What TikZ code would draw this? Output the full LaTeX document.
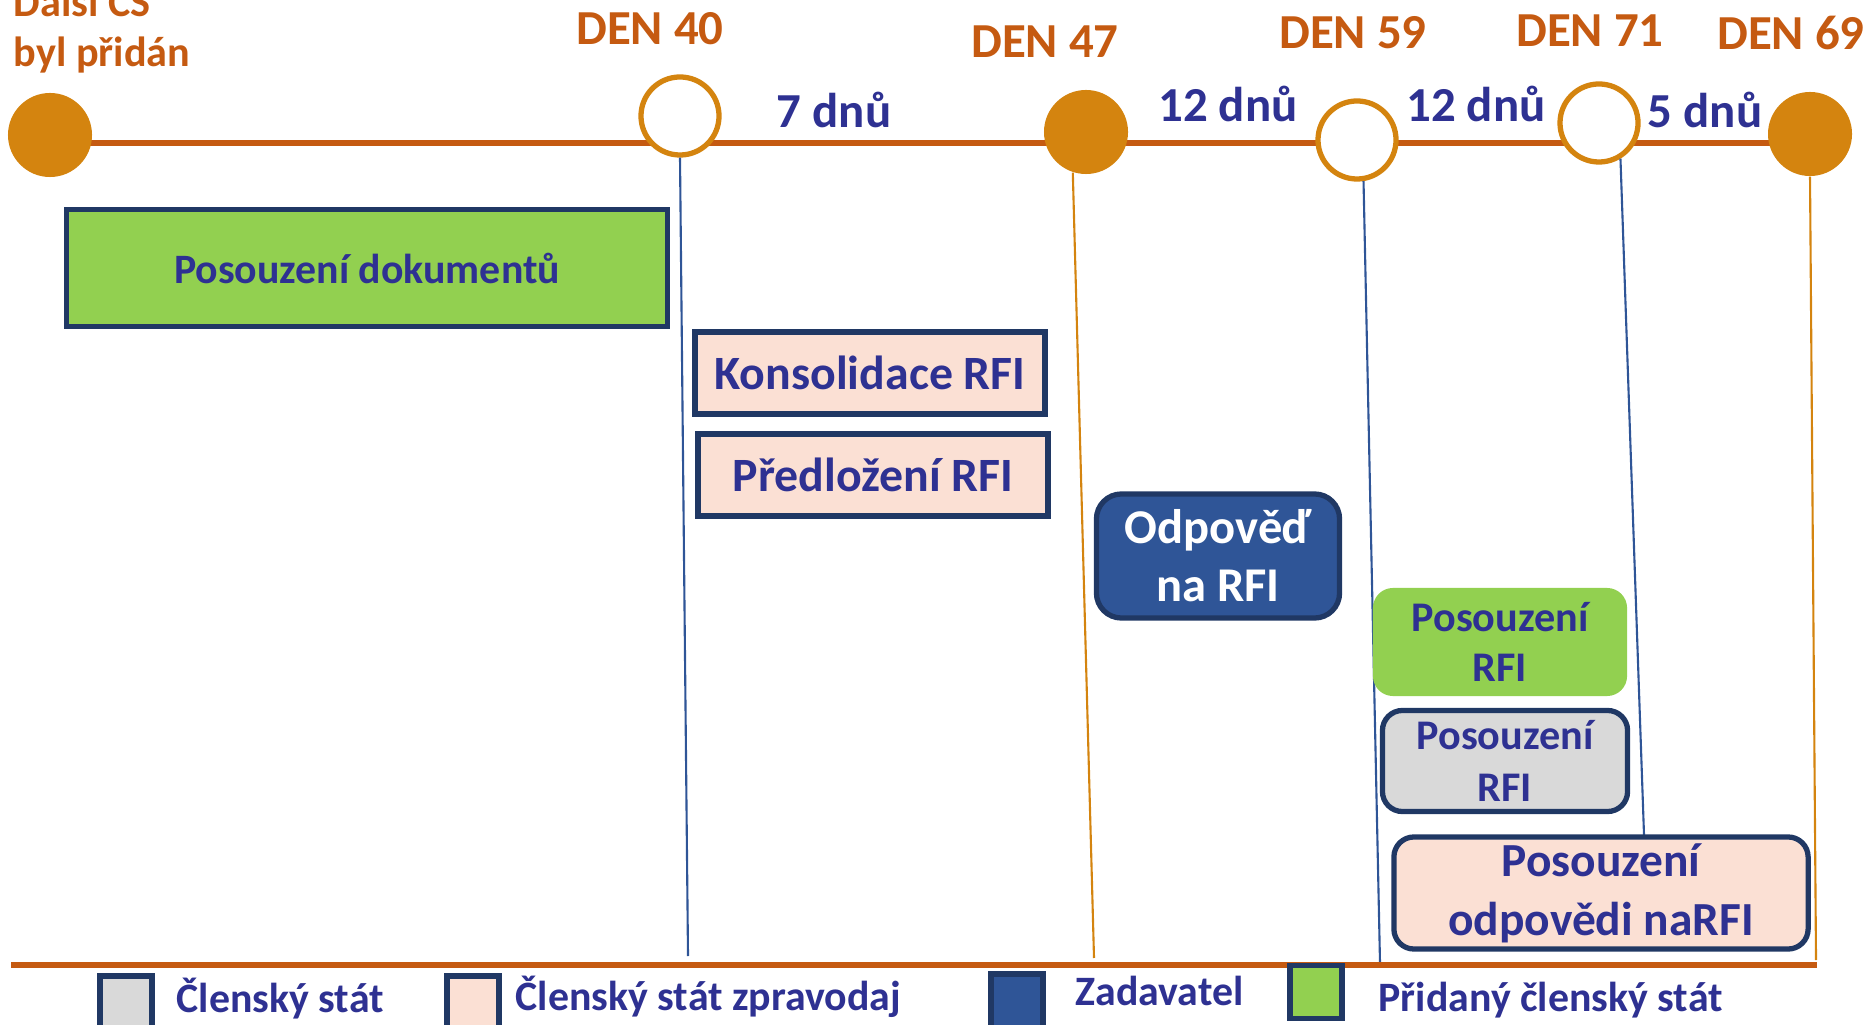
\documentclass[tikz,border=0pt]{standalone}
\usepackage{fontspec}
\setmainfont{Carlito}
\usetikzlibrary{positioning, calc}
\definecolor{rust}{HTML}{C55A11}
\definecolor{amber}{HTML}{D4840F}
\definecolor{inkblue}{HTML}{2E3192}
\definecolor{navy}{HTML}{203864}
\definecolor{midblue}{HTML}{2F5597}
\definecolor{leaf}{HTML}{92D050}
\definecolor{peach}{HTML}{FBE0D4}
\definecolor{stone}{HTML}{D9D9D9}

\begin{document}
\begin{tikzpicture}[
  x=0.01cm, y=-0.01cm,
  daydot/.style={circle, fill=amber, minimum size=0.84cm, inner sep=0pt},
  dayring/.style={circle, draw=amber, fill=white, line width=1.5pt, minimum size=0.78cm, inner sep=0pt},
  daytag/.style={font=\fontsize{13.9}{16}\selectfont\bfseries, text=rust, anchor=base, inner sep=0pt},
  gaptag/.style={font=\fontsize{13.9}{16}\selectfont\bfseries, text=inkblue, anchor=base, inner sep=0pt},
  taskbox/.style={draw=navy, line width=1.5pt, inner sep=0pt, align=center, text=inkblue},
  link/.style={line width=0.6pt},
  keybox/.style={draw=navy, line width=1.6pt, inner sep=0pt, minimum width=0.52cm, minimum height=0.6cm},
  keytag/.style={font=\fontsize{11.9}{14}\selectfont\bfseries, text=inkblue, anchor=base west, inner sep=0pt},
]

% Picture area in pixels of the original: 1870 x 1025, y downward
\clip (0,0) rectangle (1870,1025);

\pgfmathsetmacro{\tly}{143}     % timeline height
\pgfmathsetmacro{\footy}{965}   % baseline of the chart

% --- Timeline ---
\coordinate (tlL) at (50,\tly);
\coordinate (tlR) at (1810,\tly);
\draw[rust, line width=1.7pt] (tlL) -- (tlR);

\node[daydot]  (c0) at (50,135)   {};
\node[dayring] (c1) at (680,116)  {};
\node[daydot]  (c2) at (1086,132) {};
\node[dayring] (c3) at (1357,140) {};
\node[dayring] (c4) at (1599,123) {};
\node[daydot]  (c5) at (1810,134) {};

% --- Day labels ---
\node[font=\fontsize{12}{14.2}\selectfont\bfseries, text=rust, align=left,
  anchor=south west, inner sep=0pt] (added) at (13,74) {Další ČS\\byl přidán};
\node[daytag] (d40) at (650,45)  {DEN 40};
\node[daytag] (d47) at (1045,58) {DEN 47};
\node[daytag] (d59) at (1353,49) {DEN 59};
\node[daytag] (d71) at (1590,47) {DEN 71};
\node[daytag] (d69) at (1791,50) {DEN 69};

% --- Gaps between days ---
\node[gaptag] (g1) at (834,128)  {7 dnů};
\node[gaptag] (g2) at (1228,122) {12 dnů};
\node[gaptag] (g3) at (1476,122) {12 dnů};
\node[gaptag] (g4) at (1705,128) {5 dnů};

% --- Drop lines ---
\coordinate (f1) at (688,956);
\coordinate (f2) at (1094,958);
\coordinate (f3) at (1380,963);
\coordinate (f4) at (1644,835);
\coordinate (f5) at (1816,960);
\draw[link, midblue] (c1.south) -- (f1);
\draw[link, amber]   (c2.-108)  -- (f2);
\draw[link, midblue] (c3.-81)   -- (f3);
\draw[link, midblue] (c4.-59)   -- (f4);
\draw[link, amber]   (c5.south) -- (f5);

% --- Chart baseline ---
\coordinate (ftL) at (11,\footy);
\coordinate (ftR) at (1817,\footy);
\draw[rust, line width=1.7pt] (ftL) -- (ftR);

% --- Tasks ---
\node[taskbox, fill=leaf, minimum width=6.0cm, minimum height=1.17cm,
  font=\fontsize{11.9}{14}\selectfont\bfseries] (docs) at (367,268)
  {Posouzení dokumentů};
\node[taskbox, fill=peach, minimum width=3.5cm, minimum height=0.82cm,
  font=\fontsize{13.6}{16}\selectfont\bfseries] (consol) at (870,373)
  {Konsolidace RFI};
\node[taskbox, fill=peach, minimum width=3.5cm, minimum height=0.82cm,
  font=\fontsize{13.6}{16}\selectfont\bfseries] (submit) at (873,475)
  {Předložení RFI};
\node[taskbox, fill=midblue, text=white, rounded corners=0.25cm,
  minimum width=2.43cm, minimum height=1.24cm,
  font=\fontsize{13.8}{16.5}\selectfont\bfseries] (reply) at (1218,556)
  {Odpověď\\na RFI};
\node[taskbox, draw=none, fill=leaf, rounded corners=0.2cm,
  minimum width=2.54cm, minimum height=1.08cm,
  font=\fontsize{12}{14.2}\selectfont\bfseries] (addrev) at (1500,642)
  {Posouzení\\RFI};
\node[taskbox, fill=stone, rounded corners=0.2cm,
  minimum width=2.45cm, minimum height=1.01cm,
  font=\fontsize{12}{14.8}\selectfont\bfseries] (msrev) at (1505,761)
  {Posouzení\\RFI};
\node[taskbox, fill=peach, rounded corners=0.2cm,
  minimum width=4.14cm, minimum height=1.12cm,
  font=\fontsize{13.5}{16.8}\selectfont\bfseries] (rrrev) at (1601,893)
  {Posouzení\\odpovědi naRFI};

% --- Legend ---
\node[keybox, fill=stone]   (k1) at (126,1006) {};
\node[keybox, fill=peach]   (k2) at (473,1006) {};
\node[keybox, fill=midblue] (k3) at (1017,1004) {};
\node[keybox, fill=leaf, minimum height=0.53cm] (k4) at (1316,992) {};
\node[keytag] (t1) at (176,1012)  {Členský stát};
\node[keytag] (t2) at (515,1010)  {Členský stát zpravodaj};
\node[keytag] (t3) at (1075,1005) {Zadavatel};
\node[keytag] (t4) at (1378,1011) {Přidaný členský stát};

\end{tikzpicture}
\end{document}
